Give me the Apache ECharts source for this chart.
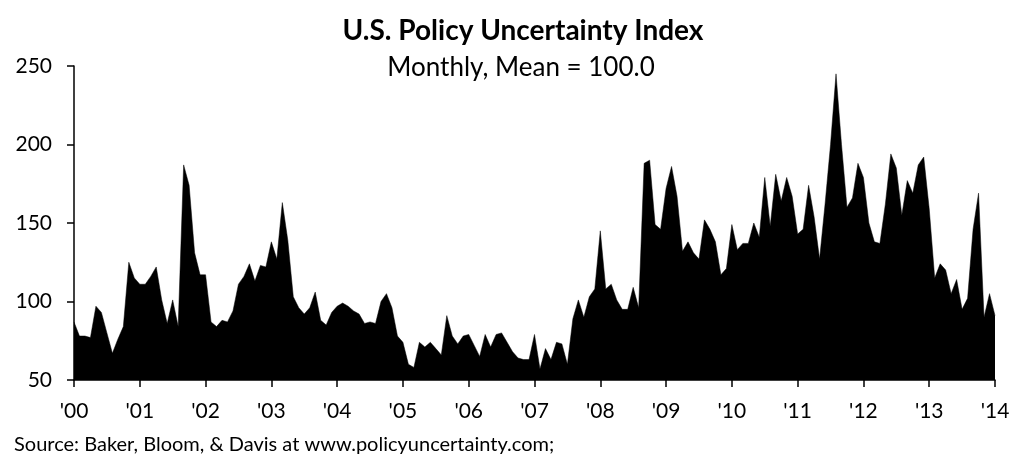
<!DOCTYPE html>
<html>
<head>
<meta charset="utf-8">
<title>U.S. Policy Uncertainty Index</title>
<script src="https://cdn.jsdelivr.net/npm/echarts@6/dist/echarts.min.js"></script>
<style>
	html, body { margin: 0; padding: 0; background: #fff; }
	#chart { width: 1013px; height: 454px; }
</style>
</head>
<body>
<div id="chart"></div>
<script>
	// monthly index, Jan 2000 .. Jan 2014
	var years = [ "00", "01", "02", "03", "04", "05", "06", "07", "08", "09", "10", "11", "12", "13", "14" ];

	var values = [
		87, 78, 78, 77, 97, 93, 80, 67, 76, 84, 125, 115,
		111, 111, 116, 122, 101, 86, 101, 84, 187, 174, 131, 117,
		117, 87, 84, 88, 87, 94, 111, 116, 124, 113, 123, 122,
		138, 127, 163, 139, 103, 96, 92, 96, 106, 88, 85, 93,
		97, 99, 97, 94, 92, 86, 87, 86, 100, 105, 96, 78,
		74, 60, 58, 74, 71, 74, 70, 66, 91, 78, 73, 78,
		79, 72, 65, 79, 71, 79, 80, 74, 68, 64, 63, 63,
		79, 57, 70, 63, 74, 73, 60, 89, 101, 90, 103, 108,
		145, 108, 111, 101, 95, 95, 109, 96, 188, 190, 149, 146,
		172, 186, 167, 132, 138, 131, 127, 152, 146, 138, 117, 121,
		149, 133, 137, 137, 150, 141, 179, 148, 181, 164, 179, 167,
		143, 146, 174, 154, 127, 162, 200, 245, 200, 160, 166, 188,
		179, 150, 138, 137, 162, 194, 185, 155, 177, 169, 187, 192,
		159, 115, 124, 120, 105, 114, 95, 102, 146, 169, 90, 105,
		91
	];

	var yTicks = { min : 50, max : 250, step : 50 };

	var months = [];
	for (var i = 0; i < values.length; i++) {
		months.push(i % 12 === 0 ? "'" + years[i / 12] : "");
	}

	var font = "Lato, 'Open Sans', sans-serif";
	var chart = echarts.init(document.getElementById("chart"));

	chart.setOption({
		animation : false,
		backgroundColor : "#fff",
		textStyle : { fontFamily : font, color : "#000" },
		title : [ {
			text : "U.S. Policy Uncertainty Index",
			left : 518,
			textAlign : "center",
			top : 12,
			textStyle : { fontFamily : font, fontSize : 28, fontWeight : "bold", color : "#000" }
		}, {
			text : "Monthly, Mean = 100.0",
			left : 516,
			textAlign : "center",
			top : 50,
			textStyle : { fontFamily : font, fontSize : 26, fontWeight : "normal", color : "#000" }
		}, {
			text : "Source: Baker, Bloom, & Davis at www.policyuncertainty.com;",
			left : 9,
			top : 430,
			textStyle : { fontFamily : font, fontSize : 20, fontWeight : "normal", color : "#000" }
		} ],
		grid : {
			left : 74,
			right : 18,
			top : 66,
			bottom : 74
		},
		xAxis : {
			type : "category",
			data : months,
			boundaryGap : false,
			axisLine : { lineStyle : { color : "#000", width : 1.5 } },
			axisTick : {
				interval : 11,
				length : 7,
				lineStyle : { color : "#000", width : 1.5 }
			},
			axisLabel : {
				interval : 11,
				margin : 21,
				fontSize : 21,
				color : "#000",
				fontFamily : font
			},
			splitLine : { show : false }
		},
		yAxis : {
			type : "value",
			min : yTicks.min,
			max : yTicks.max,
			interval : yTicks.step,
			axisLine : { show : true, lineStyle : { color : "#000", width : 1.5 } },
			axisTick : { show : true, length : 7, lineStyle : { color : "#000", width : 1.5 } },
			axisLabel : {
				margin : 22,
				fontSize : 21,
				color : "#000",
				fontFamily : font
			},
			splitLine : { show : false }
		},
		series : [ {
			type : "line",
			data : values,
			showSymbol : false,
			symbol : "none",
			lineStyle : { color : "#000", width : 0.5 },
			areaStyle : { color : "#000", opacity : 1 },
			z : 1
		} ]
	});
</script>
</body>
</html>
